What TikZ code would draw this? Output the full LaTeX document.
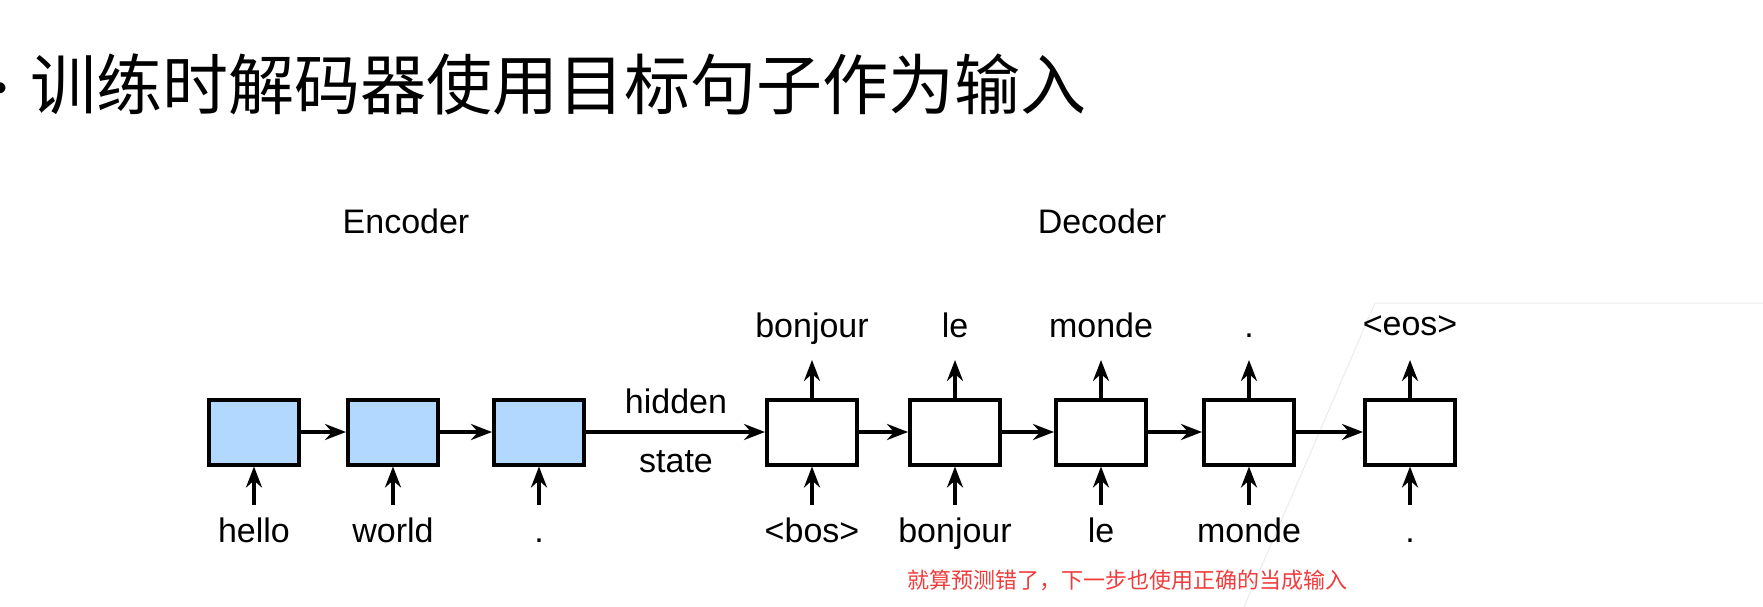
\documentclass[tikz,border=0pt]{standalone}
\usepackage{fontspec}
\setmainfont{Liberation Sans}
\newfontfamily\cjk{Noto Sans CJK SC}
\usetikzlibrary{arrows.meta}
\definecolor{encblue}{RGB}{178,216,255}
\definecolor{notered}{RGB}{240,60,60}
\begin{document}
\begin{tikzpicture}[x=1pt,y=-1pt,
  cell/.style={draw, line width=4pt, minimum width=90pt, minimum height=65pt, inner sep=0pt},
  enc/.style={cell, fill=encblue},
  dec/.style={cell, fill=white},
  lab/.style={font=\fontsize{34}{40}\selectfont, anchor=base, inner sep=0pt},
  conn/.style={line width=4pt, -{Stealth[length=21pt,width=16pt,inset=7pt]}},
]
\useasboundingbox (0,0) rectangle (1763,607);
% faint slide outline
\draw[black!8, line width=1pt] (1244,607) -- (1375,303) -- (1763,303);
% title
\node[font=\fontsize{40}{44}\selectfont, inner sep=0pt] (bullet) at (1,92) {•};
\node[anchor=base west, inner sep=0pt, font=\cjk\fontsize{66}{70}\selectfont] (title) at (30,110) {训练时解码器使用目标句子作为输入};
% headings
\node[lab] (enclab) at (406,233) {Encoder};
\node[lab] (declab) at (1102,233) {Decoder};
% cells
\node[enc] (e1) at (254,432) {};
\node[enc] (e2) at (393,432) {};
\node[enc] (e3) at (539,432) {};
\node[dec] (d1) at (812,432) {};
\node[dec] (d2) at (955,432) {};
\node[dec] (d3) at (1101,432) {};
\node[dec] (d4) at (1249,432) {};
\node[dec] (d5) at (1410,432) {};
% recurrent connections
\draw[conn] (e1) -- (e2);
\draw[conn] (e2) -- (e3);
\draw[conn] (e3) -- (d1);
\draw[conn] (d1) -- (d2);
\draw[conn] (d2) -- (d3);
\draw[conn] (d3) -- (d4);
\draw[conn] (d4) -- (d5);
\node[lab] (hid) at (676,413) {hidden};
\node[lab] (sta) at (676,472) {state};
% inputs
\foreach \n/\x/\t in {e1/254/hello, e2/393/world, e3/539/., d1/812/<bos>, d2/955/bonjour, d3/1101/le, d4/1249/monde, d5/1410/.}{
  \coordinate (in\n) at (\x,505);
  \node[lab] (il\n) at (\x,542) {\t};
  \draw[conn] (in\n) -- (\n.south);
}
% outputs
\foreach \n/\x/\t/\b in {d1/812/bonjour/337, d2/955/le/337, d3/1101/monde/337, d4/1249/./337, d5/1410/<eos>/335}{
  \coordinate (out\n) at (\x,360);
  \node[lab] (ol\n) at (\x,\b) {\t};
  \draw[conn] (\n.north) -- (out\n);
}
% note
\node[anchor=base west, inner sep=0pt, font=\cjk\fontsize{22}{26}\selectfont, text=notered] (note) at (907,588) {就算预测错了，下一步也使用正确的当成输入};
\end{tikzpicture}
\end{document}
